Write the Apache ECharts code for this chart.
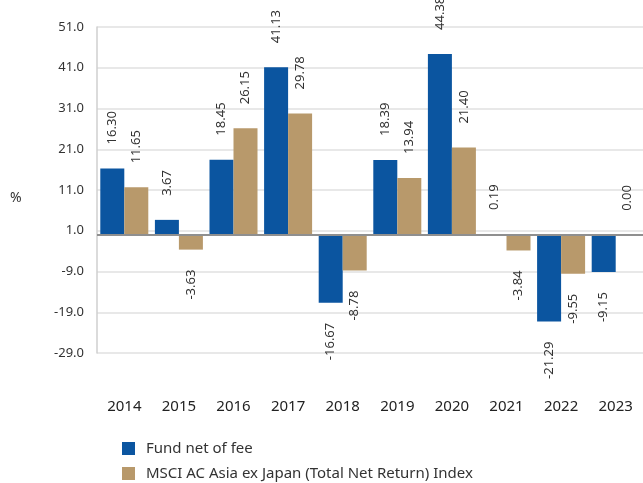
<!DOCTYPE html>
<html>
<head>
<meta charset="utf-8">
<script src="https://cdn.jsdelivr.net/npm/echarts@6/dist/echarts.min.js"></script>
<style>html,body{margin:0;padding:0;background:#fff}#c{width:643px;height:483px}</style>
</head>
<body>
<div id="c"></div>
<script>
const years = ['2014','2015','2016','2017','2018','2019','2020','2021','2022','2023'];
const fundValues = [16.30, 3.67, 18.45, 41.13, -16.67, 18.39, 44.38, 0.19, -21.29, -9.15];
const indexValues = [11.65, -3.63, 26.15, 29.78, -8.78, 13.94, 21.40, -3.84, -9.55, 0.00];
const seriesNames = ['Fund net of fee', 'MSCI AC Asia ex Japan (Total Net Return) Index'];
const yMin = -29, yMax = 51, yStep = 10;

const FONT = '"Noto Sans", sans-serif';
function withLabels(arr) {
  return arr.map(v => ({
    value: v,
    label: {
      position: v >= 0 ? 'top' : 'bottom',
      align: v >= 0 ? 'left' : 'right',
      distance: v >= 0 ? 24 : 20
    }
  }));
}
const labelBase = {
  show: true, rotate: 90, verticalAlign: 'middle',
  color: '#333', fontSize: 13, fontFamily: FONT,
  formatter: p => Number(p.value).toFixed(2)
};
const legendBase = {
  left: 117, itemWidth: 13, itemHeight: 13, icon: 'rect', itemGap: 10,
  textStyle: {fontSize: 15, color: '#333', fontFamily: FONT, padding: [0, 0, 0, 6]}
};
const chart = echarts.init(document.getElementById('c'), null, {renderer: 'canvas'});
chart.setOption({
  animation: false,
  textStyle: {fontFamily: FONT},
  grid: {left: 97, right: 0, top: 27, bottom: 130, containLabel: false},
  legend: [
    Object.assign({top: 436, data: [seriesNames[0]]}, legendBase),
    Object.assign({top: 461, data: [seriesNames[1]]}, legendBase)
  ],
  graphic: [{type: 'text', left: 10, top: 191, style: {text: '%', fontSize: 14, fill: '#333', fontFamily: FONT}}],
  xAxis: {
    type: 'category', data: years,
    axisLine: {show: false, onZero: false}, axisTick: {show: false},
    axisLabel: {margin: 46, fontSize: 15, color: '#222', fontFamily: FONT}
  },
  yAxis: {
    type: 'value', min: yMin, max: yMax, interval: yStep,
    axisLine: {show: true, lineStyle: {color: '#cfcfcf', width: 1.5}},
    axisTick: {show: false},
    axisLabel: {margin: 13, fontSize: 13, color: '#333', fontFamily: FONT, formatter: v => v.toFixed(1)},
    splitLine: {lineStyle: {color: '#e0e0e0', width: 1.5}}
  },
  series: [
    {
      name: seriesNames[0], type: 'bar', barWidth: 24, barGap: '0%',
      itemStyle: {color: '#0b55a0'},
      label: labelBase,
      data: withLabels(fundValues),
      markLine: {
        silent: true, symbol: 'none', label: {show: false},
        lineStyle: {color: '#8f8f8f', type: 'solid', width: 2},
        data: [{yAxis: 0}]
      },
      z: 2
    },
    {
      name: seriesNames[1], type: 'bar', barWidth: 24,
      itemStyle: {color: '#b8996b'},
      label: labelBase,
      data: withLabels(indexValues)
    }
  ]
});
</script>
</body>
</html>
